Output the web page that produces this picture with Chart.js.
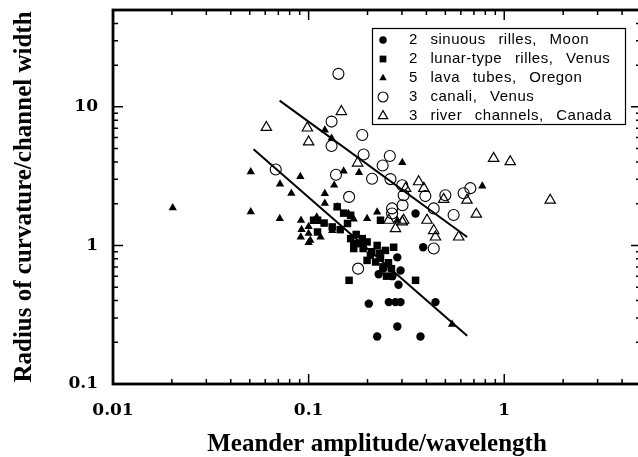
<!DOCTYPE html>
<html><head><meta charset="utf-8">
<script src="https://cdn.jsdelivr.net/npm/chart.js@4.4.1/dist/chart.umd.min.js"></script>
<style>
html,body{margin:0;padding:0;background:#fff;overflow:hidden;}
#wrap{position:relative;width:650px;height:457px;}
</style></head><body>
<div id="wrap"><canvas id="c" width="650" height="457"></canvas></div>
<script>
// ---- data ----
const seriesLabels = ['2 sinuous rilles, Moon','2 lunar-type rilles, Venus','5 lava tubes, Oregon','3 canali, Venus','3 river channels, Canada'];

const moonX = [0.352,0.385,0.284,0.203,0.257,0.278,0.295,0.445,0.284,0.224,0.373,0.241,0.268,0.288,0.295,0.228];
const moonY = [1.70,0.97,0.82,0.38,0.39,0.39,0.39,0.39,0.26,0.22,0.22,0.68,0.60,0.52,0.66,0.62];

const venusRilleX = [0.106,0.111,0.111,0.140,0.151,0.158,0.170,0.161,0.188,0.164,0.233,0.132,0.164,0.170,0.184,0.199,0.224,0.272,0.199,0.220,0.352,0.207,0.247,0.233,0.256,0.250,0.120,0.145,0.175,0.210,0.230,0.190,0.240,0.265];
const venusRilleY = [1.52,1.52,1.25,1.90,1.71,1.44,1.03,0.56,1.12,1.65,1.52,1.36,1.12,0.95,1.03,1.06,1.00,0.97,0.78,0.76,0.56,0.85,0.92,0.81,0.75,0.60,1.45,1.30,1.20,0.90,0.88,0.95,0.70,0.68];

const oregonX = [0.0202,0.0506,0.0506,0.0714,0.0816,0.0907,0.0712,0.0914,0.0912,0.100,0.100,0.121,0.131,0.121,0.121,0.140,0.135,0.151,0.181,0.199,0.224,0.284,0.301,0.772,0.541,0.132,0.100,0.102,0.110,0.115,0.160,0.170,0.092];
const oregonY = [1.87,3.40,1.75,2.77,2.38,3.14,1.56,1.52,1.15,1.22,1.05,6.81,5.93,2.37,2.01,1.90,2.72,3.44,3.35,1.56,1.74,1.52,3.96,2.68,0.27,1.28,1.37,1.09,1.60,1.15,1.70,1.55,1.30];

const canaliX = [0.142,0.131,0.0679,0.188,0.131,0.191,0.260,0.239,0.138,0.211,0.262,0.161,0.301,0.306,0.302,0.267,0.267,0.395,0.500,0.620,0.671,0.436,0.551,0.436,0.179];
const canaliY = [17.3,7.83,3.53,6.27,5.22,4.53,4.42,3.77,3.24,3.03,3.01,2.24,2.72,2.30,1.95,1.85,1.70,2.27,2.30,2.38,2.59,1.85,1.66,0.95,0.68];

const canadaX = [0.0608,0.0985,0.100,0.147,0.178,0.313,0.365,0.388,0.490,0.645,0.403,0.306,0.436,0.445,0.585,0.720,0.882,1.073,1.717,0.257,0.301,0.278];
const canadaY = [7.10,7.04,5.58,9.25,3.93,2.58,2.88,2.58,2.15,2.12,1.52,1.52,1.28,1.15,1.15,1.68,4.25,4.02,2.12,1.52,1.48,1.32];

const fitLowX = [0.0523,0.646];
const fitLowY = [4.94,0.223];
const fitHighX = [0.0711,0.646];
const fitHighY = [11.1,1.15];

const xTickLabels = ['0.01','0.1','1'];
const yTickLabels = ['0.1','1','10'];
const xTitle = 'Meander amplitude/wavelength';
const yTitle = 'Radius of curvature/channel width';
const xRange = [0.01, 5];
const yRange = [0.1, 50];

// ---- build ----
function decadeTicks(lo, hi){
  const out=[];
  for(let e=Math.floor(Math.log10(lo)); e<=Math.ceil(Math.log10(hi)); e++){
    for(let m=1;m<=9;m++){
      const v = parseFloat((m*Math.pow(10,e)).toPrecision(6));
      if(v>=lo*0.999 && v<=hi*1.001) out.push(v);
    }
  }
  return out;
}
const xTickValues = decadeTicks(xRange[0], xRange[1]);
const yTickValues = decadeTicks(yRange[0], yRange[1]);
const isDecade = v => Math.abs(Math.log10(v) - Math.round(Math.log10(v))) < 1e-6;
function labelFor(labels){
  return function(value){
    for(const l of labels){ if(Math.abs(Math.log10(value)-Math.log10(parseFloat(l)))<1e-6) return l; }
    return '';
  };
}
const pts = (xs, ys) => xs.map((x,i)=>({x:x, y:ys[i]}));

const styles = [
  {pointStyle:'circle', pointRadius:4.2, backgroundColor:'#000', borderColor:'#000', borderWidth:0},
  {pointStyle:'rect', pointRadius:5.3, backgroundColor:'#000', borderColor:'#000', borderWidth:0},
  {pointStyle:'triangle', pointRadius:4.8, backgroundColor:'#000', borderColor:'#000', borderWidth:0},
  {pointStyle:'circle', pointRadius:5.5, backgroundColor:'rgba(0,0,0,0)', borderColor:'#000', borderWidth:1.1},
  {pointStyle:'triangle', pointRadius:6, backgroundColor:'rgba(0,0,0,0)', borderColor:'#000', borderWidth:1.2}
];
const seriesData = [pts(moonX,moonY), pts(venusRilleX,venusRilleY), pts(oregonX,oregonY), pts(canaliX,canaliY), pts(canadaX,canadaY)];

const datasets = seriesData.map((d,i)=>Object.assign({label:seriesLabels[i], data:d, showLine:false}, styles[i]));
datasets.push({type:'line', label:'fit1', data:pts(fitLowX,fitLowY), borderColor:'#000', borderWidth:2, pointRadius:0, fill:false});
datasets.push({type:'line', label:'fit2', data:pts(fitHighX,fitHighY), borderColor:'#000', borderWidth:2, pointRadius:0, fill:false});

const tickFont = {family:'"DejaVu Serif"', weight:'bold', size:17};
const titleFont = {family:'"Liberation Serif"', weight:'bold', size:25, lineHeight:1};

const framePlugin = {
  id:'frame',
  afterDraw(chart){
    const {ctx, chartArea:a, scales} = chart;
    const x = scales.x, y = scales.y;
    ctx.save();
    ctx.strokeStyle = '#000';
    ctx.lineWidth = 1.5;
    ctx.beginPath();
    xTickValues.forEach(v=>{
      const px = x.getPixelForValue(v);
      if(px <= a.left+1 || px >= a.right-1) return;
      const L = isDecade(v) ? 10 : 5;
      ctx.moveTo(px, a.bottom); ctx.lineTo(px, a.bottom-L);
      ctx.moveTo(px, a.top); ctx.lineTo(px, a.top+L);
    });
    yTickValues.forEach(v=>{
      const py = y.getPixelForValue(v);
      if(py <= a.top+1 || py >= a.bottom-1) return;
      const L = isDecade(v) ? 10 : 5;
      ctx.moveTo(a.left, py); ctx.lineTo(a.left+L, py);
      ctx.moveTo(a.right, py); ctx.lineTo(a.right-L, py);
    });
    ctx.stroke();
    ctx.lineWidth = 2.8;
    ctx.strokeRect(a.left, a.top, a.right-a.left, a.bottom-a.top);

    // legend
    const lx = 372, ly = 28, lw = 253, lh = 97;
    ctx.fillStyle = '#fff';
    ctx.fillRect(lx, ly, lw, lh);
    ctx.lineWidth = 1.2;
    ctx.strokeRect(lx+0.5, ly+0.5, lw, lh-1);
    const rows = [40, 59, 78, 97, 116];
    ctx.font = '15px "Liberation Sans"';
    try { ctx.letterSpacing = '0.5px'; ctx.wordSpacing = '8px'; } catch(e){}
    ctx.textBaseline = 'middle';
    ctx.textAlign = 'left';
    for(let i=0;i<5;i++){
      const s = styles[i];
      ctx.fillStyle = s.backgroundColor;
      ctx.strokeStyle = s.borderColor;
      ctx.lineWidth = s.borderWidth;
      Chart.helpers.drawPoint(ctx, {pointStyle:s.pointStyle, radius:s.pointRadius*0.9, borderWidth:s.borderWidth, rotation:0}, 383, rows[i]);
      ctx.fillStyle = '#000';
      ctx.fillText(seriesLabels[i], 409, rows[i]);
    }
    ctx.restore();
  }
};

new Chart(document.getElementById('c'), {
  type:'scatter',
  data:{datasets:datasets},
  options:{
    responsive:false, animation:false, events:[],
    layout:{padding:{top:10, right:9, left:0, bottom:0}},
    plugins:{legend:{display:false}, tooltip:{enabled:false}},
    scales:{
      x:{type:'logarithmic', min:xRange[0], max:xRange[1], position:'bottom',
        grid:{display:false, drawTicks:false}, border:{display:false},
        ticks:{autoSkip:false, maxRotation:0, padding:16, font:tickFont, color:'#000', callback:labelFor(xTickLabels)},
        title:{display:true, text:xTitle, font:titleFont, color:'#000', padding:{top:0,bottom:0}},
        afterBuildTicks:(s)=>{ s.ticks = xTickValues.map(v=>({value:v})); },
        afterFit:(s)=>{ s.height = 73; s.paddingLeft = 0; s.paddingRight = 0; s.paddingTop = 0; s.paddingBottom = 0; }
      },
      y:{type:'logarithmic', min:yRange[0], max:yRange[1], position:'left',
        grid:{display:false, drawTicks:false}, border:{display:false},
        ticks:{autoSkip:false, padding:15, font:tickFont, color:'#000', callback:labelFor(yTickLabels)},
        title:{display:true, text:yTitle, font:titleFont, color:'#000', padding:{top:12,bottom:0}},
        afterBuildTicks:(s)=>{ s.ticks = yTickValues.map(v=>({value:v})); },
        afterFit:(s)=>{ s.width = 113; s.paddingLeft = 0; s.paddingRight = 0; s.paddingTop = 0; s.paddingBottom = 0; }
      }
    }
  },
  plugins:[framePlugin]
});
</script>
</body></html>
